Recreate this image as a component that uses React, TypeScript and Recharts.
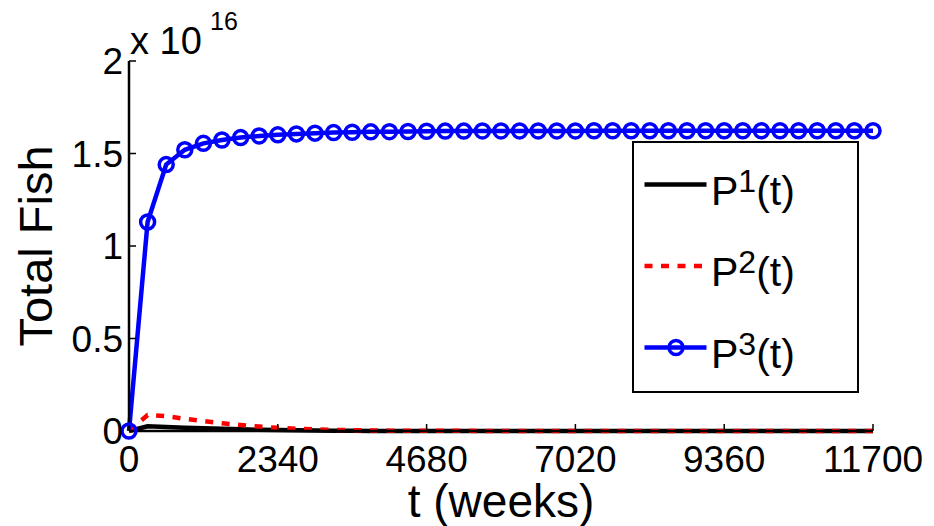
import { LineChart, Line, XAxis, YAxis, Legend, Customized } from 'recharts'

// time in weeks (41 samples)
const weeks = [
  0, 292.5, 585, 877.5, 1170, 1462.5, 1755, 2047.5, 2340, 2632.5, 2925,
  3217.5, 3510, 3802.5, 4095, 4387.5, 4680, 4972.5, 5265, 5557.5, 5850,
  6142.5, 6435, 6727.5, 7020, 7312.5, 7605, 7897.5, 8190, 8482.5, 8775,
  9067.5, 9360, 9652.5, 9945, 10237.5, 10530, 10822.5, 11115, 11407.5, 11700,
]

// values in units of 1e16
const p1 = [
  0, 0.025, 0.022, 0.018, 0.015, 0.012, 0.009, 0.007, 0.005, 0.004, 0.003,
  0.002, 0.001, 0, 0, 0, 0, 0, 0, 0, 0,
  0, 0, 0, 0, 0, 0, 0, 0, 0, 0,
  0, 0, 0, 0, 0, 0, 0, 0, 0, 0,
]
const p2 = [
  0, 0.086, 0.08, 0.066, 0.054, 0.042, 0.032, 0.024, 0.017, 0.012, 0.009,
  0.006, 0.004, 0.003, 0.002, 0.002, 0.001, 0.001, 0.001, 0, 0,
  0, 0, 0, 0, 0, 0, 0, 0, 0, 0,
  0, 0, 0, 0, 0, 0, 0, 0, 0, 0,
]
const p3 = [
  0, 1.13, 1.44, 1.52, 1.555, 1.573, 1.586, 1.595, 1.601, 1.606, 1.61,
  1.613, 1.615, 1.617, 1.618, 1.619, 1.62, 1.621, 1.621, 1.622, 1.622,
  1.622, 1.622, 1.622, 1.622, 1.623, 1.623, 1.623, 1.623, 1.623, 1.623,
  1.623, 1.623, 1.623, 1.623, 1.623, 1.623, 1.623, 1.623, 1.623, 1.623,
]

const xTicks = [0, 2340, 4680, 7020, 9360, 11700]
const yTicks = [0, 0.5, 1, 1.5, 2]

const data = weeks.map((t, i) => ({ t, p1: p1[i], p2: p2[i], p3: p3[i] }))

const FONT = '"Liberation Sans", Arial, sans-serif'

const SERIES = [
  { key: 'p1', sup: '1', color: '#000000', dash: undefined as string | undefined, marker: false },
  { key: 'p2', sup: '2', color: '#ff0000', dash: '8 8.5', marker: false },
  { key: 'p3', sup: '3', color: '#0000ff', dash: undefined as string | undefined, marker: true },
]

function FishLegend() {
  return (
    <div style={{ width: 227, height: 252, border: '2.5px solid #000', background: '#fff', boxSizing: 'border-box' }}>
      <svg width={222} height={247} style={{ display: 'block' }}>
        {SERIES.map((s, i) => {
          const cy = 41.5 + i * 81.5
          return (
            <g key={s.key}>
              <line x1={10.5} x2={72.5} y1={cy} y2={cy} stroke={s.color} strokeWidth={4.5} strokeDasharray={s.dash} />
              {s.marker && <circle cx={42} cy={cy} r={7} fill="none" stroke={s.color} strokeWidth={3.5} />}
              <text x={77} y={cy + 20} fontSize={41} fontFamily={FONT} fill="#000">
                P<tspan dy={-13} fontSize={32}>{s.sup}</tspan><tspan dy={13}>(t)</tspan>
              </text>
            </g>
          )
        })}
      </svg>
    </div>
  )
}

function Exponent() {
  return (
    <g>
      <text x={130} y={54} fill="#000" style={{ fontSize: 38, fontFamily: FONT }}>x 10</text>
      <text x={210} y={30} fill="#000" style={{ fontSize: 25, fontFamily: FONT }}>16</text>
    </g>
  )
}

// tick marks only, no labels (for the top and right box edges)
const NoLabel = () => <g />

const tickFont = { fill: '#000', fontSize: 37, fontFamily: FONT }
const axisLine = { stroke: '#000', strokeWidth: 2.5 }
const tickLine = { stroke: '#000', strokeWidth: 1.5 }

export default function App() {
  return (
    <div style={{ position: 'absolute', left: 0, top: 0, background: '#fff' }}>
      <LineChart width={934} height={526} data={data} margin={{ top: 61, right: 61, bottom: 0, left: 0 }}>
        <XAxis
          xAxisId="b" dataKey="t" type="number" domain={[0, 11700]} ticks={xTicks}
          height={95} tickSize={-7} tickMargin={22} axisLine={axisLine} tickLine={tickLine} tick={tickFont}
          label={{ value: 't (weeks)', position: 'insideBottom', offset: 9, fontSize: 46, fontFamily: FONT, fill: '#000' }}
        />
        <XAxis
          xAxisId="top" dataKey="t" type="number" domain={[0, 11700]} ticks={xTicks} orientation="top"
          height={0} tickSize={-7} axisLine={axisLine} tickLine={tickLine} tick={NoLabel}
        />
        <YAxis
          yAxisId="l" type="number" domain={[0, 2]} ticks={yTicks} width={129}
          tickSize={-7} tickMargin={13} axisLine={axisLine} tickLine={tickLine} tick={tickFont}
          label={{
            content: () => (
              <text transform="translate(52, 246) rotate(-90)" textAnchor="middle" fontSize={47} fontFamily={FONT} fill="#000">
                Total Fish
              </text>
            ),
          }}
        />
        <YAxis
          yAxisId="r" type="number" domain={[0, 2]} ticks={yTicks} orientation="right" width={0}
          tickSize={-7} axisLine={axisLine} tickLine={tickLine} tick={NoLabel}
        />
        {SERIES.map((s) => (
          <Line
            key={s.key}
            xAxisId="b"
            yAxisId="l"
            type="linear"
            dataKey={s.key}
            stroke={s.color}
            strokeWidth={4.5}
            strokeDasharray={s.dash}
            dot={s.marker ? { r: 7, fill: 'none', stroke: s.color, strokeWidth: 3.5 } : false}
            activeDot={false}
            isAnimationActive={false}
          />
        ))}
        <Legend
          layout="vertical" align="center" verticalAlign="middle"
          wrapperStyle={{ left: 632, top: 141, width: 227, height: 252 }}
          content={() => <FishLegend />}
        />
        <Customized component={Exponent} />
      </LineChart>
    </div>
  )
}
